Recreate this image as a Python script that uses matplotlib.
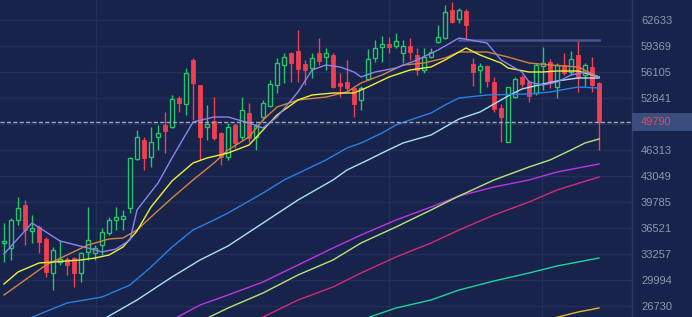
import matplotlib
matplotlib.use('Agg')
import matplotlib.pyplot as plt
import matplotlib.transforms as mtransforms
from matplotlib.patches import Rectangle
import numpy as np

# candle data
opens = [34638, 34010, 37525, 39408, 36144, 36647, 35140, 30872, 32253, 32629,
         32755, 30872, 33508, 33383, 34387, 35893, 37525, 37651, 39032, 45183,
         47568, 45434, 47945, 49452, 49200, 52841, 52088, 57612, 54473, 49200,
         49954, 48447, 45434, 49452, 47945, 50958, 47945, 50456, 51837, 54473,
         56984, 58491, 58742, 57109, 56607, 58491, 57988, 58239, 54724, 54850,
         54097, 52590, 55227, 57863, 59244, 59620, 59369, 58491, 59369, 58239,
         56356, 57988, 59871, 60374, 63889, 62759, 63763, 57109, 56356, 56858,
         54850, 51586, 47317, 52967, 55478, 54850, 53469, 56858, 57361, 54222,
         56984, 56105, 58239, 55729, 56733, 54724]
highs = [37149, 37777, 40413, 40036, 38153, 36898, 35391, 34136, 35014, 32880,
         32880, 33508, 39157, 34387, 36521, 37902, 39157, 38781, 45434, 48824,
         47945, 49200, 49452, 51084, 53218, 53092, 56607, 57863, 54473, 51962,
         52967, 48573, 49703, 49703, 52967, 52214, 49703, 52590, 55101, 57863,
         58491, 58616, 61378, 57612, 58491, 60374, 59118, 58491, 55980, 57612,
         54097, 54348, 58993, 60122, 60625, 60499, 61001, 60122, 60374, 59118,
         59118, 59118, 62006, 64516, 64893, 64140, 64014, 57863, 57235, 56984,
         55478, 52088, 54222, 55478, 55729, 55101, 57235, 59244, 57737, 57235,
         58491, 58742, 59997, 57235, 57988, 54850]
lows = [32253, 32504, 36898, 34387, 34638, 33383, 30370, 28737, 31876, 30621,
        29114, 29742, 32504, 32504, 33131, 35642, 36270, 36270, 38404, 45058,
        43802, 44179, 46313, 45936, 49075, 51084, 50707, 50079, 45058, 47568,
        47568, 44430, 45058, 46564, 47568, 47317, 46313, 50079, 51711, 53469,
        54724, 54850, 54850, 54473, 55352, 56984, 56356, 54097, 52967, 53594,
        50456, 51335, 55101, 57361, 57361, 58491, 59118, 57235, 57612, 55729,
        55980, 57863, 59746, 60248, 62257, 62257, 60122, 54348, 53469, 54222,
        51084, 47317, 47317, 52841, 54222, 52339, 53218, 53845, 54097, 52841,
        55729, 55729, 53594, 54222, 53594, 46313]
closes = [34889, 37525, 39032, 36270, 36521, 34763, 30997, 33759, 32629, 31876,
          30872, 33383, 35014, 34010, 36019, 37525, 37902, 38028, 45309, 47945,
          45309, 47317, 48447, 48698, 52716, 52214, 55980, 54724, 47945, 49577,
          47819, 45434, 49200, 47192, 51335, 47819, 49325, 52214, 54599, 57235,
          57988, 57235, 56482, 56356, 57863, 57486, 58491, 54222, 54348, 54097,
          52088, 54097, 57737, 59118, 59620, 59244, 59997, 59369, 58616, 56356,
          57988, 58616, 60499, 63637, 62382, 63889, 62006, 56105, 56858, 54975,
          51460, 50456, 54222, 55227, 54599, 53092, 56984, 57235, 54724, 56984,
          55980, 57737, 55478, 56984, 54473, 49790]

# moving average lines (candle index, value)
ma5_x = [0, 4, 8, 12, 14, 16, 18, 19, 22, 24, 27, 30, 32, 35, 37, 39, 42, 44, 46, 48,
         50, 51, 53, 56, 59, 62, 65, 69, 71, 74, 75, 77, 79, 81, 83, 85]
ma5_y = [33257, 37149, 34889, 34010, 33508, 33885, 35014, 38781, 42170, 45309, 49828, 50456,
         50456, 49703, 49075, 50456, 53594, 56356, 56984, 56733, 56105, 55478, 56105, 56607,
         57612, 58867, 60374, 59746, 57612, 56105, 54850, 54473, 54850, 55729, 56105, 55478]
ma10_x = [0, 2, 5, 9, 11, 13, 15, 17, 19, 21, 24, 27, 29, 32, 35, 37, 39, 42, 44, 47,
          50, 52, 55, 58, 61, 63, 66, 68, 71, 72, 75, 77, 79, 82, 85]
ma10_y = [29491, 30997, 32127, 32378, 32504, 32755, 33131, 34136, 36144, 39157, 42421, 44681,
          45309, 45936, 46941, 48824, 50707, 52590, 53218, 53469, 53469, 54222, 55478, 56356,
          56733, 57612, 59118, 58239, 57235, 56607, 56105, 56105, 56231, 56231, 55478]
ma20_x = [0, 3, 6, 9, 12, 15, 17, 19, 21, 24, 27, 30, 32, 35, 37, 39, 42, 46, 49, 51,
          54, 57, 60, 63, 65, 69, 72, 75, 78, 82, 85]
ma20_y = [28109, 29993, 31876, 33131, 34387, 35140, 35265, 36270, 37902, 40287, 42547, 44681,
          46313, 47945, 50079, 51711, 52590, 52967, 53594, 54724, 55729, 56984, 57235, 57863,
          58616, 58616, 57988, 57235, 56984, 56733, 55478]
ma30_x = [3, 9, 14, 18, 21, 24, 27, 30, 32, 37, 40, 46, 49, 51, 54, 56, 58, 61, 63, 65,
          69, 75, 78, 82, 85]
ma30_y = [24970, 27105, 27858, 29365, 31625, 34136, 36270, 37525, 38404, 40915, 42547, 45058,
          46564, 47192, 48447, 49452, 50079, 50958, 51962, 52841, 53218, 53343, 53594, 54222,
          54097]
ma60_x = [14, 19, 24, 28, 32, 37, 42, 47, 49, 52, 54, 57, 61, 65, 68, 70, 72, 74, 77, 79, 82, 85]
ma60_y = [24971, 27482, 30370, 32504, 34261, 37149, 40036, 42547, 43802, 45058, 45936, 47192,
          48196, 50205, 51084, 52088, 53092, 53971, 54599, 54975, 55352, 55352]
ma90_x = [29, 32, 37, 42, 47, 51, 56, 61, 65, 70, 75, 78, 81, 83, 85]
ma90_y = [25200, 26477, 28360, 30621, 32504, 34638, 36647, 38781, 40538, 42547, 44179, 45058,
          46313, 47192, 47694]
ma120_x = [24, 28, 32, 37, 42, 47, 51, 56, 61, 65, 70, 75, 79, 85]
ma120_y = [24971, 26854, 28109, 29742, 31876, 34010, 35642, 37525, 39157, 40538, 41668, 42547,
           43551, 44556]
ma150_x = [36, 42, 47, 51, 56, 61, 65, 70, 75, 79, 85]
ma150_y = [24910, 27482, 29114, 30872, 32880, 34638, 36270, 38153, 39785, 41291, 42923]
ma200_x = [51, 56, 61, 65, 70, 75, 79, 85]
ma200_y = [24971, 26477, 27482, 28737, 29867, 30872, 31750, 32755]
ma250_x = [78, 82, 85]
ma250_y = [25097, 25975, 26477]

flat_level = 60060
flat_from, flat_to = 65, 85

yticks = [62633, 59369, 56105, 52841, 49577, 46313, 43049, 39785, 36521, 33257, 29994, 26730]
vgrid = [13.1, 55, 76.9]

bg = '#17234a'
grid_c = '#222f5a'
up_c = '#26c46c'
down_c = '#ef3f50'

fig = plt.figure(figsize=(6.92, 3.17), dpi=100, facecolor=bg)
ax = fig.add_axes([0, 0, 632 / 692, 1])
ax.set_facecolor(bg)

idx = np.arange(len(closes))
o = np.array(opens); c = np.array(closes); h = np.array(highs); l = np.array(lows)
up = c >= o

ax.vlines(idx[up], l[up], h[up], color=up_c, lw=1, zorder=2)
ax.vlines(idx[~up], l[~up], h[~up], color=down_c, lw=1, zorder=2)
ax.bar(idx[up], c[up] - o[up], bottom=o[up], width=0.62, facecolor=bg,
       edgecolor=up_c, linewidth=1, zorder=3)
ax.bar(idx[~up], o[~up] - c[~up], bottom=c[~up], width=0.66, facecolor=down_c,
       edgecolor=down_c, linewidth=0.6, zorder=3)

lines = [
    (ma250_x, ma250_y, '#e3b63a'),
    (ma200_x, ma200_y, '#1fd39a'),
    (ma150_x, ma150_y, '#d42a7e'),
    (ma120_x, ma120_y, '#c034e6'),
    (ma90_x, ma90_y, '#b5e67a'),
    (ma60_x, ma60_y, '#a9e2f5'),
    (ma30_x, ma30_y, '#2a7fe2'),
    (ma20_x, ma20_y, '#d4843e'),
    (ma10_x, ma10_y, '#f0ee3c'),
    (ma5_x, ma5_y, '#8f82ee'),
]
for xs, ys, col in lines:
    ax.plot(xs, ys, color=col, lw=1.0, zorder=4)

ax.plot([flat_from, flat_to], [flat_level, flat_level], color='#4a5690', lw=1.8, zorder=3.5)

last = closes[-1]
ax.axhline(last, color='#a3a7b8', lw=1, ls=(0, (3, 1.6)), zorder=5)

ax.set_xlim(-4 / 7, 628 / 7)
ax.set_ylim(25348, 65144)

ax.set_yticks(yticks)
ax.set_yticklabels([str(v) if v != 49577 else '' for v in yticks])
ax.set_xticks(vgrid)
ax.set_xticklabels([])
ax.yaxis.tick_right()
ax.tick_params(axis='both', length=0)
ax.tick_params(axis='y', pad=6.5, labelsize=8, labelcolor='#8c97b6')
for t in ax.get_yticklabels():
    t.set_family(['Liberation Sans', 'DejaVu Sans'])
ax.grid(True, color=grid_c, lw=1, zorder=0)
ax.set_axisbelow(True)
for s in ['top', 'left', 'bottom']:
    ax.spines[s].set_visible(False)
ax.spines['right'].set_color('#2a3867')
ax.spines['right'].set_linewidth(1)

# current price tag
tr = mtransforms.blended_transform_factory(fig.transFigure, ax.transData)
ax.add_patch(Rectangle((632 / 692, last - 1130), 60 / 692, 2260, transform=tr,
                       facecolor='#3a4e7e', edgecolor='none', clip_on=False, zorder=6))
ax.text(641 / 692, last, str(last), transform=tr, color='#f2405a', fontsize=8,
        family=['Liberation Sans', 'DejaVu Sans'], va='center', ha='left', zorder=7)

fig.savefig('out.png', dpi=100, facecolor=bg)
